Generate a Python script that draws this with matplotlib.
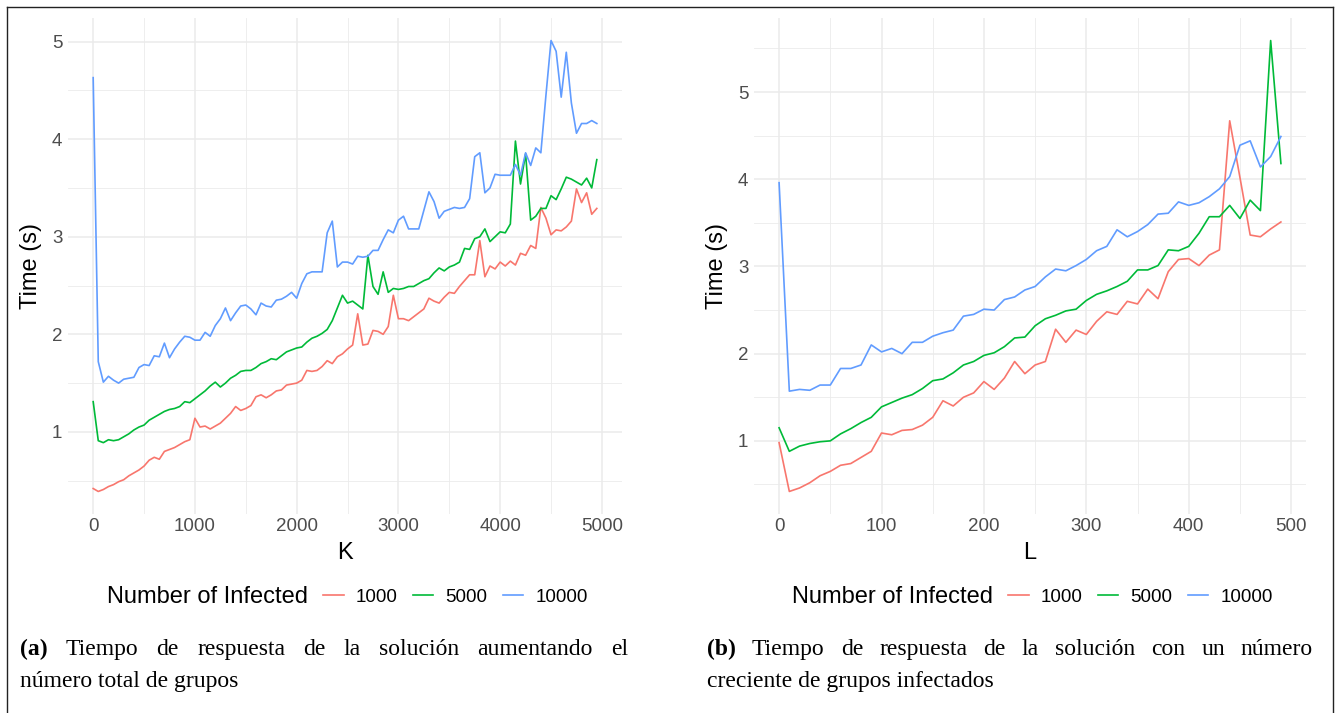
import matplotlib
matplotlib.use("Agg")
import matplotlib.pyplot as plt
from matplotlib.lines import Line2D
from matplotlib.ticker import MultipleLocator

# ---------------- data ----------------
K = list(range(0, 5000, 50))          # total number of groups (panel a)
L = list(range(0, 500, 10))           # number of infected groups (panel b)
groups = ["1000", "5000", "10000"]
colors = ["#F8766D", "#00BA38", "#619CFF"]

red_a = [0.42, 0.39, 0.41, 0.44, 0.46, 0.49, 0.51, 0.55, 0.58, 0.61,
         0.65, 0.71, 0.74, 0.72, 0.80, 0.82, 0.84, 0.87, 0.90, 0.92,
         1.14, 1.05, 1.06, 1.03, 1.06, 1.09, 1.14, 1.19, 1.26, 1.22,
         1.24, 1.27, 1.36, 1.38, 1.35, 1.38, 1.42, 1.43, 1.48, 1.49,
         1.50, 1.53, 1.63, 1.62, 1.63, 1.67, 1.73, 1.70, 1.77, 1.80,
         1.85, 1.89, 2.21, 1.89, 1.90, 2.04, 2.03, 2.00, 2.08, 2.40,
         2.16, 2.16, 2.14, 2.18, 2.22, 2.26, 2.37, 2.34, 2.32, 2.38,
         2.43, 2.42, 2.49, 2.55, 2.61, 2.61, 2.96, 2.59, 2.70, 2.67,
         2.74, 2.70, 2.75, 2.71, 2.83, 2.81, 2.91, 2.88, 3.30, 3.19,
         3.02, 3.07, 3.06, 3.10, 3.16, 3.49, 3.35, 3.45, 3.23, 3.29]

green_a = [1.31, 0.91, 0.89, 0.92, 0.91, 0.92, 0.95, 0.98, 1.02, 1.05,
           1.07, 1.12, 1.15, 1.18, 1.21, 1.23, 1.24, 1.26, 1.31, 1.30,
           1.34, 1.38, 1.42, 1.47, 1.51, 1.46, 1.50, 1.55, 1.58, 1.62,
           1.63, 1.63, 1.66, 1.70, 1.72, 1.75, 1.74, 1.78, 1.82, 1.84,
           1.86, 1.87, 1.92, 1.96, 1.98, 2.01, 2.05, 2.14, 2.27, 2.40,
           2.32, 2.34, 2.30, 2.26, 2.81, 2.49, 2.41, 2.64, 2.43, 2.47,
           2.46, 2.47, 2.49, 2.49, 2.52, 2.55, 2.57, 2.63, 2.68, 2.65,
           2.69, 2.71, 2.74, 2.88, 2.87, 2.98, 3.00, 3.08, 2.95, 3.00,
           3.05, 3.04, 3.13, 3.98, 3.54, 3.85, 3.17, 3.21, 3.29, 3.29,
           3.42, 3.38, 3.49, 3.61, 3.59, 3.56, 3.53, 3.60, 3.50, 3.79]

blue_a = [4.63, 1.72, 1.51, 1.57, 1.53, 1.50, 1.54, 1.55, 1.56, 1.66,
          1.69, 1.68, 1.78, 1.77, 1.91, 1.76, 1.85, 1.92, 1.98, 1.97,
          1.94, 1.94, 2.02, 1.98, 2.09, 2.16, 2.27, 2.14, 2.22, 2.29,
          2.30, 2.26, 2.20, 2.32, 2.29, 2.28, 2.35, 2.36, 2.39, 2.43,
          2.37, 2.52, 2.62, 2.64, 2.64, 2.64, 3.04, 3.16, 2.69, 2.74,
          2.74, 2.72, 2.80, 2.79, 2.80, 2.86, 2.86, 2.97, 3.07, 3.04,
          3.17, 3.21, 3.08, 3.08, 3.08, 3.27, 3.46, 3.36, 3.19, 3.26,
          3.28, 3.30, 3.29, 3.30, 3.39, 3.82, 3.86, 3.45, 3.50, 3.64,
          3.63, 3.63, 3.63, 3.74, 3.63, 3.86, 3.73, 3.91, 3.86, 4.45,
          5.01, 4.90, 4.43, 4.89, 4.37, 4.06, 4.16, 4.16, 4.19, 4.16]

red_b = [0.98, 0.42, 0.46, 0.52, 0.60, 0.65, 0.72, 0.74, 0.81, 0.88,
         1.09, 1.07, 1.12, 1.13, 1.18, 1.27, 1.46, 1.40, 1.50, 1.55,
         1.68, 1.59, 1.72, 1.91, 1.77, 1.87, 1.91, 2.28, 2.13, 2.27,
         2.22, 2.37, 2.48, 2.45, 2.60, 2.57, 2.74, 2.63, 2.94, 3.08,
         3.09, 3.01, 3.13, 3.19, 4.67, 4.02, 3.36, 3.34, 3.43, 3.51]

green_b = [1.15, 0.88, 0.94, 0.97, 0.99, 1.00, 1.08, 1.14, 1.21, 1.27,
           1.39, 1.44, 1.49, 1.53, 1.60, 1.69, 1.71, 1.78, 1.87, 1.91,
           1.98, 2.01, 2.08, 2.18, 2.19, 2.32, 2.40, 2.44, 2.49, 2.51,
           2.61, 2.68, 2.72, 2.77, 2.83, 2.96, 2.96, 3.01, 3.19, 3.18,
           3.23, 3.38, 3.57, 3.57, 3.70, 3.55, 3.76, 3.64, 5.59, 4.18]

blue_b = [3.96, 1.57, 1.59, 1.58, 1.64, 1.64, 1.83, 1.83, 1.87, 2.10,
          2.02, 2.06, 2.00, 2.13, 2.13, 2.20, 2.24, 2.27, 2.43, 2.45,
          2.51, 2.50, 2.62, 2.65, 2.73, 2.77, 2.88, 2.97, 2.95, 3.01,
          3.08, 3.18, 3.23, 3.42, 3.34, 3.40, 3.48, 3.60, 3.61, 3.74,
          3.70, 3.73, 3.80, 3.89, 4.03, 4.39, 4.44, 4.14, 4.26, 4.49]

legend_title = "Number of Infected"
caption_a1 = ["(a)", "Tiempo", "de", "respuesta", "de", "la", "solución", "aumentando", "el"]
caption_a2 = "número total de grupos"
caption_b1 = ["(b)", "Tiempo", "de", "respuesta", "de", "la", "solución", "con", "un", "número"]
caption_b2 = "creciente de grupos infectados"

# ---------------- figure ----------------
plt.rcParams['font.family'] = ['Liberation Sans', 'DejaVu Sans']
W, H = 1339, 713
fig = plt.figure(figsize=(W / 100, H / 100), dpi=100)
fig.patch.set_facecolor('white')


def px_rect(x0, y0, x1, y1):
    return [x0 / W, 1 - y1 / H, (x1 - x0) / W, (y1 - y0) / H]


def fx(x):
    return x / W


def fy(y):
    return 1 - y / H


axA = fig.add_axes(px_rect(68, 18, 622, 514))
axB = fig.add_axes(px_rect(754, 18, 1306, 514))


def style(ax, xmajor, xminor, xlabel):
    ax.set_facecolor('white')
    for s in ax.spines.values():
        s.set_visible(False)
    ax.xaxis.set_major_locator(MultipleLocator(xmajor))
    ax.xaxis.set_minor_locator(MultipleLocator(xminor))
    ax.yaxis.set_major_locator(MultipleLocator(1))
    ax.yaxis.set_minor_locator(MultipleLocator(0.5))
    ax.grid(which='major', color='#EBEBEB', lw=1.1)
    ax.grid(which='minor', color='#EBEBEB', lw=0.6)
    ax.set_axisbelow(True)
    ax.tick_params(which='both', length=0, labelsize=13.5, labelcolor='#4D4D4D')
    ax.tick_params(axis='x', pad=3)
    ax.tick_params(axis='y', pad=4)
    ax.set_xlabel(xlabel, fontsize=17, labelpad=5)
    ax.set_ylabel('Time (s)', fontsize=17, labelpad=7)
    ax.margins(x=0.05, y=0.05)


for ax, xs, series in [(axA, K, [red_a, green_a, blue_a]),
                       (axB, L, [red_b, green_b, blue_b])]:
    for ys, c in zip(series, colors):
        ax.plot(xs, ys, color=c, lw=1.2, solid_joinstyle='round')

style(axA, 1000, 500, 'K')
style(axB, 100, 50, 'L')

# ---------------- legends ----------------
handles = [Line2D([], [], color=c, lw=1.2) for c in colors]
for tx, lx in [(107, 323), (792, 1008)]:
    fig.text(fx(tx), fy(597), legend_title, fontsize=17, va='center', ha='left')
    fig.legend(handles, groups, ncol=3, loc='center left',
               bbox_to_anchor=(fx(lx), fy(597)), frameon=False, fontsize=13.5,
               handlelength=1.1, handletextpad=0.65, columnspacing=0.8,
               borderpad=0, borderaxespad=0)

# ---------------- captions ----------------
renderer = fig.canvas.get_renderer()
serif = ['Liberation Serif', 'DejaVu Serif']


def justified(words, x0, x1, ybase):
    texts = []
    for i, w in enumerate(words):
        t = fig.text(0, fy(ybase), w, family=serif, fontsize=17,
                     fontweight='bold' if i == 0 else 'normal', va='baseline', ha='left')
        texts.append(t)
    widths = [t.get_window_extent(renderer).width for t in texts]
    gap = ((x1 - x0) - sum(widths)) / (len(words) - 1)
    x = x0
    for t, w in zip(texts, widths):
        t.set_x(fx(x))
        x += w + gap


justified(caption_a1, 20, 628, 655)
fig.text(fx(20), fy(687), caption_a2, family=serif, fontsize=17, va='baseline', ha='left')
justified(caption_b1, 707, 1313, 655)
fig.text(fx(707), fy(687), caption_b2, family=serif, fontsize=17, va='baseline', ha='left')

# ---------------- frame ----------------
frame_kw = dict(color='#222222', lw=1.0, transform=fig.transFigure)
fig.add_artist(Line2D([fx(7), fx(7)], [fy(7), fy(713)], **frame_kw))
fig.add_artist(Line2D([fx(7), fx(1333)], [fy(7), fy(7)], **frame_kw))
fig.add_artist(Line2D([fx(1333), fx(1333)], [fy(7), fy(713)], **frame_kw))

fig.savefig('out.png', dpi=100, facecolor='white')
